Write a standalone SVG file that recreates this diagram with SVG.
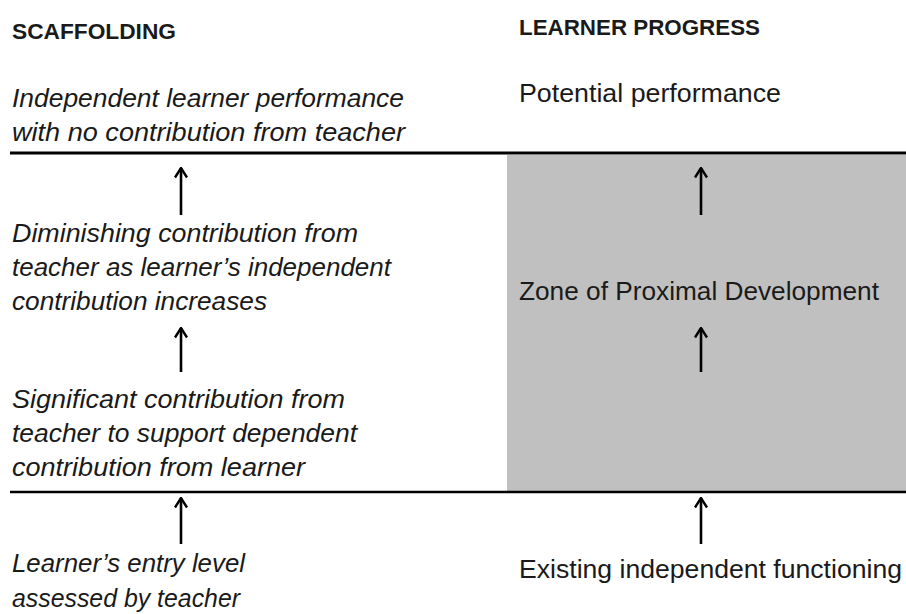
<svg xmlns="http://www.w3.org/2000/svg" width="906" height="614" viewBox="0 0 906 614">
<defs>
<style>
text{font-family:"Liberation Sans",Arial,sans-serif;fill:#1a1a1a;}
.h{font-size:22px;font-weight:bold;}
.i{font-size:25px;font-style:italic;}
.n{font-size:25px;}
.rule{stroke:#000;stroke-width:3;}
.arr{stroke:#000;stroke-width:2.6;fill:none;marker-end:url(#ah);}
</style>
<marker id="ah" viewBox="0 0 12 14" refX="10.5" refY="7" markerWidth="12" markerHeight="14" markerUnits="userSpaceOnUse" orient="auto">
<path d="M1,1 L10.5,7 L1,13" fill="none" stroke="#000" stroke-width="2.4"/>
</marker>
</defs>
<rect width="906" height="614" fill="#fff"/>
<g id="zpd-area"><rect x="507" y="155" width="399" height="336" fill="#c0c0c0"/></g>
<g id="rules">
<line class="rule" x1="10" y1="153" x2="906" y2="153"/>
<line class="rule" x1="10" y1="492" x2="906" y2="492" style="stroke-width:2.5"/>
</g>
<g id="header-scaffolding"><text class="h" x="12" y="39" textLength="164" lengthAdjust="spacingAndGlyphs">SCAFFOLDING</text></g>
<g id="header-progress"><text class="h" x="519" y="35" textLength="241" lengthAdjust="spacingAndGlyphs">LEARNER PROGRESS</text></g>
<g id="s-independent">
<text class="i" x="12" y="107" textLength="392" lengthAdjust="spacingAndGlyphs">Independent learner performance</text>
<text class="i" x="12" y="141" textLength="393" lengthAdjust="spacingAndGlyphs">with no contribution from teacher</text>
</g>
<g id="s-diminishing">
<text class="i" x="12" y="242" textLength="346" lengthAdjust="spacingAndGlyphs">Diminishing contribution from</text>
<text class="i" x="12" y="276" textLength="379" lengthAdjust="spacingAndGlyphs">teacher as learner’s independent</text>
<text class="i" x="12" y="310" textLength="255" lengthAdjust="spacingAndGlyphs">contribution increases</text>
</g>
<g id="s-significant">
<text class="i" x="12" y="408" textLength="333" lengthAdjust="spacingAndGlyphs">Significant contribution from</text>
<text class="i" x="12" y="442" textLength="345" lengthAdjust="spacingAndGlyphs">teacher to support dependent</text>
<text class="i" x="12" y="476" textLength="293" lengthAdjust="spacingAndGlyphs">contribution from learner</text>
</g>
<g id="s-entry">
<text class="i" x="12" y="572" textLength="233" lengthAdjust="spacingAndGlyphs">Learner’s entry level</text>
<text class="i" x="12" y="607" textLength="228" lengthAdjust="spacingAndGlyphs">assessed by teacher</text>
</g>
<g id="p-potential"><text class="n" x="519" y="102" textLength="262" lengthAdjust="spacingAndGlyphs">Potential performance</text></g>
<g id="p-zpd"><text class="n" x="519" y="300" textLength="360" lengthAdjust="spacingAndGlyphs">Zone of Proximal Development</text></g>
<g id="p-existing"><text class="n" x="519" y="578" textLength="383" lengthAdjust="spacingAndGlyphs">Existing independent functioning</text></g>
<g id="connectors">
<line class="arr" x1="181" y1="215" x2="181" y2="168"/>
<line class="arr" x1="181" y1="372" x2="181" y2="328"/>
<line class="arr" x1="181" y1="544" x2="181" y2="498"/>
<line class="arr" x1="701" y1="215" x2="701" y2="168"/>
<line class="arr" x1="701" y1="372" x2="701" y2="328"/>
<line class="arr" x1="701" y1="544" x2="701" y2="498"/>
</g>
</svg>
